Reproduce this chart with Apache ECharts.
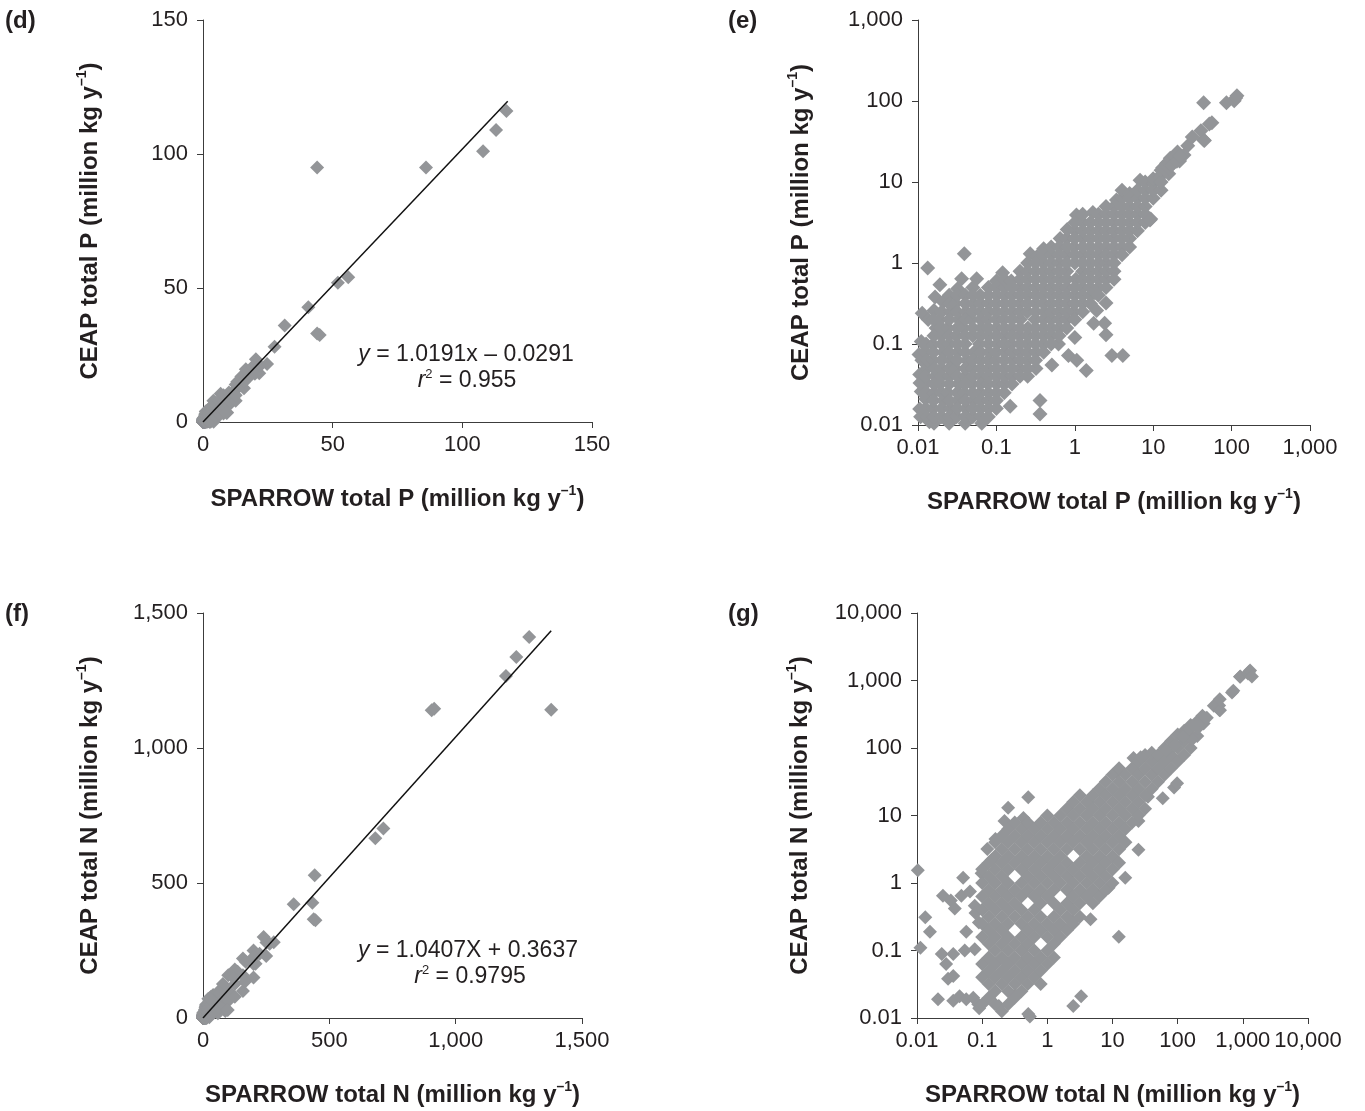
<!DOCTYPE html>
<html><head><meta charset="utf-8">
<script src="https://cdn.jsdelivr.net/npm/echarts@6/dist/echarts.min.js"></script>
<style>html,body{margin:0;padding:0;background:#fff}#c{width:1365px;height:1111px}</style>
</head><body><div id="c"></div>
<script>
// Total P loads per basin: [SPARROW, CEAP] (million kg per year)
const pLoads = [
[0.0105,0.0158],[0.011,0.026],[0.0105,0.042],[0.0103,0.074],[0.0112,0.063],[0.011,0.107],[0.0113,0.24],[0.0108,0.0126],[0.0106,0.033],
[0.013,0.0125],[0.0125,0.021],[0.0128,0.033],[0.013,0.05],[0.0122,0.08],[0.0135,0.2],[0.0133,0.87],[0.014,0.011],
[0.0125,0.016],[0.0128,0.025],[0.0124,0.04],[0.013,0.063],[0.0127,0.1],
[0.016,0.0105],[0.0155,0.016],[0.016,0.025],[0.0165,0.04],[0.0155,0.063],[0.0155,0.098],[0.017,0.158],[0.016,0.26],[0.0165,0.38],
[0.016,0.0126],[0.0158,0.02],[0.016,0.032],[0.0162,0.05],[0.0158,0.079],[0.016,0.126],[0.0158,0.2],
[0.02,0.0126],[0.021,0.02],[0.019,0.032],[0.02,0.05],[0.021,0.079],[0.02,0.126],[0.019,0.2],[0.021,0.33],[0.019,0.54],
[0.02,0.016],[0.02,0.025],[0.02,0.04],[0.02,0.063],[0.02,0.1],[0.02,0.158],[0.02,0.25],
[0.025,0.0105],[0.026,0.016],[0.024,0.025],[0.025,0.04],[0.026,0.063],[0.025,0.1],[0.024,0.158],[0.026,0.25],[0.025,0.4],
[0.025,0.0126],[0.025,0.02],[0.025,0.032],[0.025,0.05],[0.025,0.079],[0.025,0.126],[0.025,0.2],[0.025,0.316],
[0.031,0.0126],[0.032,0.02],[0.033,0.032],[0.03,0.05],[0.032,0.079],[0.031,0.126],[0.033,0.2],[0.03,0.316],[0.032,0.48],
[0.0316,0.016],[0.0316,0.025],[0.0316,0.04],[0.0316,0.063],[0.0316,0.1],[0.0316,0.158],[0.0316,0.25],[0.0316,0.4],
[0.04,0.0105],[0.041,0.016],[0.039,0.025],[0.04,0.04],[0.042,0.063],[0.04,0.1],[0.038,0.158],[0.041,0.25],[0.04,0.4],[0.036,0.64],[0.039,1.3],
[0.04,0.0126],[0.04,0.02],[0.04,0.032],[0.04,0.05],[0.04,0.079],[0.04,0.126],[0.04,0.2],[0.04,0.316],
[0.05,0.0126],[0.051,0.02],[0.049,0.032],[0.05,0.05],[0.052,0.079],[0.05,0.126],[0.048,0.2],[0.051,0.316],[0.05,0.5],
[0.05,0.016],[0.05,0.025],[0.05,0.04],[0.05,0.063],[0.05,0.158],[0.05,0.25],[0.05,0.4],
[0.065,0.0105],[0.063,0.016],[0.062,0.025],[0.064,0.04],[0.063,0.063],[0.061,0.1],[0.064,0.158],[0.063,0.25],[0.062,0.4],[0.056,0.64],
[0.063,0.0126],[0.063,0.02],[0.063,0.032],[0.063,0.05],[0.063,0.079],[0.063,0.126],[0.063,0.2],[0.063,0.316],
[0.079,0.0126],[0.08,0.02],[0.078,0.032],[0.079,0.05],[0.081,0.079],[0.079,0.126],[0.077,0.2],[0.08,0.316],[0.079,0.5],
[0.079,0.016],[0.079,0.025],[0.079,0.04],[0.079,0.063],[0.079,0.1],[0.079,0.158],[0.079,0.25],[0.079,0.4],
[0.1,0.016],[0.1,0.025],[0.1,0.04],[0.098,0.063],[0.102,0.1],[0.1,0.158],[0.099,0.25],[0.101,0.4],[0.1,0.6],
[0.1,0.02],[0.1,0.032],[0.1,0.05],[0.1,0.079],[0.1,0.126],[0.1,0.2],[0.1,0.316],[0.1,0.5],
[0.126,0.032],[0.125,0.05],[0.128,0.079],[0.126,0.126],[0.124,0.2],[0.127,0.316],[0.126,0.5],[0.12,0.76],
[0.126,0.025],[0.126,0.04],[0.126,0.063],[0.126,0.1],[0.126,0.158],[0.126,0.25],[0.126,0.4],[0.126,0.63],
[0.15,0.017],[0.158,0.04],[0.16,0.063],[0.156,0.1],[0.158,0.158],[0.16,0.25],[0.158,0.4],[0.155,0.6],
[0.158,0.032],[0.158,0.05],[0.158,0.079],[0.158,0.126],[0.158,0.2],[0.158,0.316],[0.158,0.5],
[0.2,0.05],[0.2,0.079],[0.198,0.126],[0.202,0.2],[0.2,0.316],[0.2,0.5],[0.2,0.79],
[0.2,0.04],[0.2,0.063],[0.2,0.1],[0.2,0.158],[0.2,0.25],[0.2,0.4],[0.2,0.63],
[0.25,0.04],[0.25,0.063],[0.25,0.1],[0.252,0.158],[0.248,0.25],[0.25,0.4],[0.25,0.63],[0.25,1.0],[0.27,1.3],
[0.25,0.05],[0.25,0.079],[0.25,0.126],[0.25,0.316],[0.25,0.5],[0.25,0.79],
[0.32,0.05],[0.32,0.079],[0.316,0.126],[0.31,0.2],[0.32,0.316],[0.316,0.5],[0.316,0.79],[0.33,1.2],[0.36,0.02],[0.36,0.0137],
[0.316,0.063],[0.316,0.1],[0.316,0.158],[0.316,0.25],[0.316,0.4],[0.316,0.63],[0.316,1.0],
[0.4,0.1],[0.4,0.158],[0.41,0.25],[0.39,0.4],[0.4,0.63],[0.4,1.0],[0.4,1.5],
[0.4,0.079],[0.4,0.126],[0.4,0.2],[0.4,0.316],[0.4,0.5],[0.4,0.79],[0.4,1.26],
[0.5,0.126],[0.5,0.2],[0.5,0.316],[0.5,0.5],[0.5,0.79],[0.5,1.26],[0.51,0.055],
[0.5,0.1],[0.5,0.158],[0.5,0.25],[0.5,0.4],[0.5,0.63],[0.5,1.0],[0.5,1.58],
[0.62,0.1],[0.63,0.158],[0.63,0.25],[0.63,0.4],[0.63,0.63],[0.63,1.0],[0.63,1.58],[0.65,2.0],
[0.63,0.126],[0.63,0.2],[0.63,0.316],[0.63,0.5],[0.63,0.79],[0.63,1.26],
[0.79,0.2],[0.79,0.316],[0.79,0.5],[0.79,0.79],[0.79,1.26],[0.79,2.0],[0.83,0.072],[0.8,2.6],
[0.79,0.158],[0.79,0.25],[0.79,0.4],[0.79,0.63],[0.79,1.0],[0.79,1.58],
[0.97,0.25],[1.0,0.4],[1.03,0.63],[1.0,1.0],[0.98,1.58],[1.0,2.5],[1.05,3.9],[1.0,0.12],[1.06,0.063],
[1.0,0.2],[1.0,0.316],[1.0,0.5],[1.0,1.26],[1.0,2.0],[1.0,3.16],
[1.26,0.316],[1.26,0.5],[1.26,0.79],[1.26,1.26],[1.26,2.0],[1.26,3.16],[1.4,0.047],
[1.26,0.25],[1.26,0.4],[1.26,0.63],[1.26,1.0],[1.26,1.58],[1.26,2.5],[1.26,4.0],
[1.58,0.4],[1.58,0.63],[1.58,1.0],[1.58,1.58],[1.58,2.5],[1.7,4.2],[1.74,0.18],[1.8,0.43],
[1.58,0.316],[1.58,0.5],[1.58,0.79],[1.58,1.26],[1.58,2.0],[1.58,3.16],
[2.0,0.5],[2.0,0.79],[2.0,1.26],[2.0,2.0],[2.0,3.16],[1.9,0.26],
[2.0,0.4],[2.0,0.63],[2.0,1.0],[2.0,1.58],[2.0,2.5],[2.0,4.0],
[2.5,0.63],[2.5,1.0],[2.5,1.58],[2.5,2.5],[2.5,4.0],[2.5,0.32],[2.4,0.18],[2.5,0.13],
[2.5,0.5],[2.5,0.79],[2.5,1.26],[2.5,2.0],[2.5,3.16],[2.5,5.0],
[3.16,0.79],[3.16,1.26],[3.16,2.0],[3.16,3.16],[3.16,5.0],[3.4,6.0],[2.97,0.072],
[3.16,0.63],[3.16,1.0],[3.16,1.58],[3.16,2.5],[3.16,4.0],
[4.0,1.58],[4.0,2.5],[4.0,4.0],[4.0,6.3],[4.1,0.072],
[4.0,1.26],[4.0,2.0],[4.0,3.16],[4.0,5.0],[4.0,7.9],
[5.0,2.0],[5.0,3.16],[5.0,5.0],[5.0,7.2],
[5.0,1.58],[5.0,2.5],[5.0,4.0],[5.0,6.3],
[6.3,2.5],[6.3,4.0],[6.3,6.3],[6.8,10.5],
[6.3,3.16],[6.3,5.0],[6.3,7.9],
[7.9,3.16],[7.9,5.0],[7.9,7.9],[9.3,3.5],
[7.9,4.0],[7.9,6.3],[7.9,10],
[10,6.3],[10,9.6],[9.1,3.4],[10,7.9],[10,11],
[12.6,7.9],[12.2,11.6],[13,12.6],[12.6,10],[12.6,14],
[15.8,12.6],[14.8,17],[16.5,19.7],[13.2,15],[15.8,15],[17,16],
[19,20.5],[20.4,23.4],[21.7,18.2],[24.7,21.6],[20,18],[22,21],
[27.6,28.1],[31.5,36],[40.6,42.8],[44,33],[45,32.5],[52,52],[56,54],[44,95],[86,95],[108,101],[113,109],[117,116]
];

// Total N loads per basin: [SPARROW, CEAP] (million kg per year)
const nLoads = [
[0.0103,1.55],[0.0134,0.31],[0.0158,0.19],[0.0113,0.11],[0.025,0.65],[0.033,0.55],[0.038,0.42],[0.048,0.65],[0.051,1.2],
[0.077,0.46],[0.057,0.19],[0.079,0.36],[0.089,0.26],[0.024,0.089],[0.036,0.089],[0.028,0.063],[0.03,0.038],[0.036,0.042],
[0.021,0.019],[0.036,0.018],[0.045,0.021],[0.057,0.019],[0.073,0.02],[0.087,0.016],[0.09,0.014],[0.077,0.104],[0.054,0.1],[0.065,0.75],
[0.18,0.015],[0.32,0.022],[0.51,0.0115],[0.54,0.0105],[2.5,0.015],[3.3,0.021],[12.5,0.16],[4.6,0.29],[2.4,0.27],
[0.51,18.6],[0.25,13],[0.22,8.3],[0.43,9.2],[0.16,4.5],[0.12,3.2],[0.14,2.2],[0.098,1.4],
[8.7,0.85],[15.7,1.2],[25,3.1],[25,8.3],[35,19],[21,71],[11.5,44],[88,26],[59,18],[4.3,16],
[0.1,0.016],[0.1,0.04],[0.1,0.063],[0.1,0.158],[0.1,0.25],[0.1,0.4],[0.1,0.63],[0.1,1.0],[0.1,1.6],
[0.126,0.02],[0.126,0.032],[0.126,0.05],[0.126,0.079],[0.126,0.126],[0.126,0.2],[0.126,0.316],[0.126,0.5],[0.126,0.79],[0.126,1.26],[0.126,2.0],
[0.158,0.016],[0.158,0.025],[0.158,0.04],[0.158,0.063],[0.158,0.1],[0.158,0.158],[0.158,0.25],[0.158,0.4],[0.158,0.63],[0.158,1.0],[0.158,1.58],[0.158,2.5],[0.158,4.0],
[0.2,0.0126],[0.2,0.032],[0.2,0.05],[0.2,0.079],[0.2,0.126],[0.2,0.2],[0.2,0.316],[0.2,0.5],[0.2,0.79],[0.2,1.26],[0.2,2.0],[0.2,3.16],[0.2,5.0],
[0.25,0.016],[0.25,0.025],[0.25,0.04],[0.25,0.063],[0.25,0.1],[0.25,0.158],[0.25,0.25],[0.25,0.4],[0.25,0.63],[0.25,1.0],[0.25,1.58],[0.25,2.5],[0.25,4.0],[0.25,6.3],
[0.316,0.02],[0.316,0.032],[0.316,0.05],[0.316,0.079],[0.316,0.126],[0.316,0.316],[0.316,0.5],[0.316,0.79],[0.316,2.0],[0.316,3.16],[0.316,5.0],[0.316,7.9],
[0.4,0.025],[0.4,0.04],[0.4,0.063],[0.4,0.1],[0.4,0.158],[0.4,0.25],[0.4,0.4],[0.4,0.63],[0.4,1.0],[0.4,1.58],[0.4,2.5],[0.4,4.0],[0.4,6.3],
[0.5,0.032],[0.5,0.05],[0.5,0.079],[0.5,0.126],[0.5,0.2],[0.5,0.316],[0.5,0.79],[0.5,1.26],[0.5,2.0],[0.5,3.16],[0.5,5.0],[0.5,7.9],
[0.63,0.04],[0.63,0.063],[0.63,0.1],[0.63,0.158],[0.63,0.25],[0.63,0.4],[0.63,0.63],[0.63,1.0],[0.63,1.58],[0.63,2.5],[0.63,4.0],[0.63,6.3],
[0.79,0.032],[0.79,0.05],[0.79,0.079],[0.79,0.2],[0.79,0.316],[0.79,0.5],[0.79,0.79],[0.79,1.26],[0.79,2.0],[0.79,3.16],[0.79,5.0],[0.79,7.9],
[1.0,0.063],[1.0,0.1],[1.0,0.158],[1.0,0.25],[1.0,0.63],[1.0,1.0],[1.0,1.58],[1.0,2.5],[1.0,4.0],[1.0,6.3],[1.0,10],
[1.26,0.079],[1.26,0.126],[1.26,0.2],[1.26,0.316],[1.26,0.5],[1.26,0.79],[1.26,1.26],[1.26,2.0],[1.26,3.16],[1.26,5.0],[1.26,7.9],
[1.58,0.158],[1.58,0.25],[1.58,0.4],[1.58,1.0],[1.58,1.58],[1.58,2.5],[1.58,4.0],[1.58,6.3],[1.58,10],
[2.0,0.2],[2.0,0.316],[2.0,0.5],[2.0,0.79],[2.0,1.26],[2.0,2.0],[2.0,3.16],[2.0,5.0],[2.0,7.9],[2.0,12.6],
[2.5,0.25],[2.5,0.4],[2.5,0.63],[2.5,1.0],[2.5,1.58],[2.5,4.0],[2.5,6.3],[2.5,10],[2.5,15.8],
[3.16,0.316],[3.16,0.5],[3.16,0.79],[3.16,1.26],[3.16,2.0],[3.16,3.16],[3.16,5.0],[3.16,7.9],[3.16,12.6],[3.16,20],
[4.0,0.63],[4.0,1.0],[4.0,1.58],[4.0,2.5],[4.0,4.0],[4.0,6.3],[4.0,10],[4.0,15.8],
[5.0,0.5],[5.0,0.79],[5.0,1.26],[5.0,2.0],[5.0,3.16],[5.0,5.0],[5.0,7.9],[5.0,12.6],[5.0,20],
[6.3,0.63],[6.3,1.0],[6.3,1.58],[6.3,2.5],[6.3,4.0],[6.3,6.3],[6.3,10],[6.3,15.8],[6.3,25],
[7.9,0.79],[7.9,1.26],[7.9,2.0],[7.9,3.16],[7.9,5.0],[7.9,7.9],[7.9,12.6],[7.9,20],[7.9,31.6],
[10,1.0],[10,1.58],[10,2.5],[10,4.0],[10,6.3],[10,10],[10,15.8],[10,25],[10,40],
[12.6,2.0],[12.6,3.16],[12.6,5.0],[12.6,7.9],[12.6,12.6],[12.6,20],[12.6,31.6],[12.6,50],
[15.8,4.0],[15.8,6.3],[15.8,10],[15.8,15.8],[15.8,25],[15.8,40],
[20,7.9],[20,12.6],[20,20],[20,31.6],[20,50],
[25,10],[25,15.8],[25,25],[25,40],[25,63],
[31.6,12.6],[31.6,20],[31.6,31.6],[31.6,50],[31.6,79],
[40,25],[40,40],[40,63],[40,85],
[50,31.6],[50,50],[50,79],
[63,40],[63,63],[63,100],
[79,50],[79,79],[79,126],
[100,63],[100,100],[100,158],
[126,79],[126,126],[126,180],
[158,100],[158,158],[158,220],
[200,150],[200,200],[200,250],
[250,230],[251,280],[240,300],
[280,281],[264,275],[224,238],[200,226],[208,201],[169,208],[166,134],[137,171],[122,147],[90,110],[98,30],[66,92],[27,73],
[359,421],[433,427],[438,366],[445,362],[442,529],[682,666],[714,702],[905,1140],[915,1145],[1199,1267],[1240,1337],[1291,1411],[1378,1142]
];

const trendP = {slope: 1.0191, intercept: -0.0291, xStart: 0, xEnd: 117.5};
const trendN = {slope: 1.0407, intercept: 0.3637, xStart: 0, xEnd: 1378};
const ticksPLin = ['0', '50', '100', '150'];
const ticksNLin = ['0', '500', '1,000', '1,500'];
const ticksPLog = ['0.01', '0.1', '1', '10', '100', '1,000'];
const ticksNLog = ['0.01', '0.1', '1', '10', '100', '1,000', '10,000'];
const panelLabels = ['(d)', '(e)', '(f)', '(g)'];
const eqP = ['{i|y} = 1.0191x – 0.0291', '{i|r}{s|2} = 0.955'];
const eqN = ['{i|y} = 1.0407X + 0.3637', '{i|r}{s|2} = 0.9795'];
const xTitleP = 'SPARROW total P (million kg y{s|–1})';
const yTitleP = 'CEAP total P (million kg y{s|–1})';
const xTitleN = 'SPARROW total N (million kg y{s|–1})';
const yTitleN = 'CEAP total N (million kg y{s|–1})';

const FONT = "'Liberation Sans', Arial, sans-serif";
const TXT = '#231f20';
const AX = '#3c3c3c';
const PT = '#939598';

function trendData(t) {
  return [[t.xStart, t.slope * t.xStart + t.intercept], [t.xEnd, t.slope * t.xEnd + t.intercept]];
}
const nameStyle = {
  fontFamily: FONT, fontSize: 24, fontWeight: 'bold', color: TXT, lineHeight: 30,
  rich: { s: { fontFamily: FONT, fontSize: 14, fontWeight: 'bold', color: TXT, verticalAlign: 'top', lineHeight: 14 } }
};
function linAxis(gi, isX, max, interval, labels, name, gap) {
  return {
    type: 'value', gridIndex: gi, min: 0, max: max, interval: interval,
    name: name, nameLocation: 'middle', nameGap: gap, nameTextStyle: nameStyle,
    axisLine: { show: true, onZero: false, lineStyle: { color: AX, width: 1 } },
    axisTick: { show: true, inside: false, length: 6, lineStyle: { color: AX, width: 1 } },
    splitLine: { show: false },
    axisLabel: { fontFamily: FONT, fontSize: 22, color: TXT, margin: isX ? 12 : 15,
      formatter: v => labels[Math.round(v / interval)] }
  };
}
function logAxis(gi, isX, min, max, labels, name, gap) {
  return {
    type: 'log', logBase: 10, gridIndex: gi, min: min, max: max, splitNumber: labels.length,
    name: name, nameLocation: 'middle', nameGap: gap, nameTextStyle: nameStyle,
    axisLine: { show: true, onZero: false, lineStyle: { color: AX, width: 1 } },
    axisTick: { show: true, inside: false, length: 6, lineStyle: { color: AX, width: 1 } },
    splitLine: { show: false }, minorTick: { show: false },
    axisLabel: { fontFamily: FONT, fontSize: 22, color: TXT, margin: isX ? 12 : 15,
      formatter: v => labels[Math.round(Math.log10(v) - Math.log10(min))] }
  };
}
function scatter(xi, data, size) {
  return { type: 'scatter', xAxisIndex: xi, yAxisIndex: xi, data: data, symbol: 'diamond',
    symbolSize: size, itemStyle: { color: PT, borderWidth: 0, opacity: 1 }, clip: false, silent: true, z: 2 };
}
function trend(xi, t) {
  return { type: 'line', xAxisIndex: xi, yAxisIndex: xi, data: trendData(t), showSymbol: false,
    symbol: 'none', lineStyle: { color: '#111', width: 1.5 }, silent: true, z: 3 };
}
const eqRich = {
  i: { fontFamily: FONT, fontSize: 23, fontStyle: 'italic', fill: TXT, color: TXT },
  s: { fontFamily: FONT, fontSize: 13, fill: TXT, color: TXT, verticalAlign: 'top', lineHeight: 13 },
  b: { fontFamily: FONT, fontSize: 24, fontWeight: 'bold', fill: TXT, color: TXT }
};
function textEl(str, x, y, size, weight, align) {
  return { type: 'text', x: x, y: y, silent: true,
    style: { text: str, fontFamily: FONT, fontSize: size, fontWeight: weight, fill: TXT,
      align: align, verticalAlign: 'middle', lineHeight: 26, rich: eqRich } };
}

const chart = echarts.init(document.getElementById('c'), null, { renderer: 'canvas' });
chart.setOption({
  animation: false,
  backgroundColor: '#ffffff',
  grid: [
    { left: 203, top: 20, width: 389, height: 402 },
    { left: 918, top: 20, width: 392, height: 405 },
    { left: 203, top: 613, width: 379, height: 407 },
    { left: 917, top: 613, width: 391, height: 406 }
  ],
  xAxis: [
    linAxis(0, true, 150, 50, ticksPLin, xTitleP, 62),
    logAxis(1, true, 0.01, 1000, ticksPLog, xTitleP, 62),
    linAxis(2, true, 1500, 500, ticksNLin, xTitleN, 62),
    logAxis(3, true, 0.01, 10000, ticksNLog, xTitleN, 62)
  ],
  yAxis: [
    linAxis(0, false, 150, 50, ticksPLin, yTitleP, 98),
    logAxis(1, false, 0.01, 1000, ticksPLog, yTitleP, 102),
    linAxis(2, false, 1500, 500, ticksNLin, yTitleN, 98),
    logAxis(3, false, 0.01, 10000, ticksNLog, yTitleN, 102)
  ],
  series: [
    scatter(0, pLoads, 14), trend(0, trendP),
    scatter(1, pLoads, 15),
    scatter(2, nLoads, 14), trend(2, trendN),
    scatter(3, nLoads, 14)
  ],
  graphic: [
    textEl('{b|' + panelLabels[0] + '}', 5, 21, 24, 'bold', 'left'),
    textEl('{b|' + panelLabels[1] + '}', 728, 21, 24, 'bold', 'left'),
    textEl('{b|' + panelLabels[2] + '}', 5, 614, 24, 'bold', 'left'),
    textEl('{b|' + panelLabels[3] + '}', 728, 614, 24, 'bold', 'left'),
    textEl(eqP[0], 466, 355, 23, 'normal', 'center'),
    textEl(eqP[1], 467, 381, 23, 'normal', 'center'),
    textEl(eqN[0], 468, 951, 23, 'normal', 'center'),
    textEl(eqN[1], 470, 977, 23, 'normal', 'center')
  ]
});
</script>
</body></html>
